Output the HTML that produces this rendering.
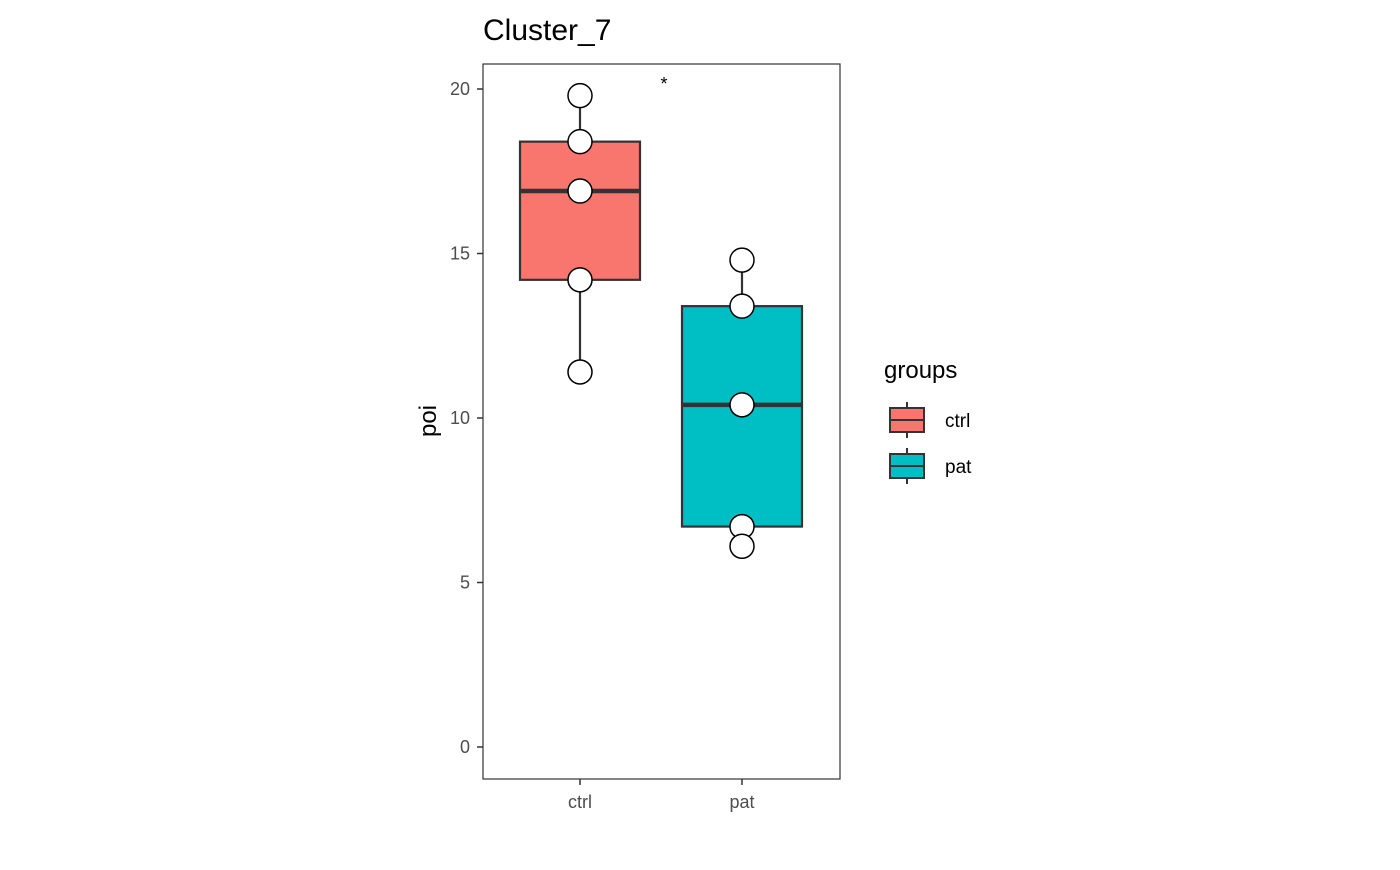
<!DOCTYPE html>
<html><head><meta charset="utf-8"><style>
body{margin:0;background:#fff;font-family:"Liberation Sans",Arial,sans-serif}
svg text{font-family:"Liberation Sans",Arial,sans-serif}
</style></head><body>
<svg id="c" width="1400" height="865" xmlns="http://www.w3.org/2000/svg">
<text x="483" y="40" font-size="30" fill="#000">Cluster_7</text>
<rect x="483" y="64" width="357" height="715" fill="none" stroke="#333" stroke-width="1.2"/>
<g id="yaxis"></g>
<g id="xaxis"></g>
<g id="boxes"></g>
<text x="664" y="90" font-size="18" text-anchor="middle">*</text>
<text transform="translate(436,421) rotate(-90)" font-size="24" text-anchor="middle">poi</text>
<g>
<text x="884" y="378" font-size="24">groups</text>
<g>
<line x1="907" y1="402" x2="907" y2="438" stroke="#333" stroke-width="2"/>
<rect x="890" y="408" width="34" height="24" fill="#F8766D" stroke="#333" stroke-width="2"/>
<line x1="890" y1="420" x2="924" y2="420" stroke="#333" stroke-width="2"/>
<text x="945" y="427" font-size="19">ctrl</text></g>
<g>
<line x1="907" y1="448" x2="907" y2="484" stroke="#333" stroke-width="2"/>
<rect x="890" y="454" width="34" height="24" fill="#00BFC4" stroke="#333" stroke-width="2"/>
<line x1="890" y1="466" x2="924" y2="466" stroke="#333" stroke-width="2"/>
<text x="945" y="473" font-size="19">pat</text></g>
</g>
</svg>
<script>
const categories=["ctrl","pat"];
const colors=["#F8766D","#00BFC4"];
const ctrlPoints=[19.8,18.4,16.9,14.2,11.4];
const patPoints=[14.8,13.4,10.4,6.7,6.1];
const yTicks=[0,5,10,15,20];
const NS="http://www.w3.org/2000/svg";
const y=v=>747-v*32.9;
const x=i=>580+i*162;
function mk(t,a,p){const e=document.createElementNS(NS,t);for(const k in a)e.setAttribute(k,a[k]);p.appendChild(e);return e;}
const ya=document.getElementById('yaxis'),xa=document.getElementById('xaxis'),bx=document.getElementById('boxes');
yTicks.forEach(t=>{
 const l=mk('line',{x1:477,x2:483,y1:y(t),y2:y(t),stroke:'#333','stroke-width':1.5},ya);
 
 
 const s=mk('text',{x:470,y:y(t)+6,'font-size':18,'text-anchor':'end',fill:'#4d4d4d'},ya);s.textContent=t;
 
 
});
function q(arr,p){const s=[...arr].sort((a,b)=>a-b);const h=(s.length-1)*p,lo=Math.floor(h);return s[lo]+(s[Math.ceil(h)]-s[lo])*(h-lo);}
[ctrlPoints,patPoints].forEach((pts,i)=>{
 const cx=x(i);
 const l=mk('line',{x1:cx,x2:cx,y1:779,y2:785,stroke:'#333','stroke-width':1.5},xa);
 
 
 const s=mk('text',{x:cx,y:808,'font-size':18,'text-anchor':'middle',fill:'#4d4d4d'},xa);s.textContent=categories[i];
 
 
 const g=mk('g',{},bx);
 
 
 const q1=q(pts,.25),md=q(pts,.5),q3=q(pts,.75),mn=Math.min(...pts),mx=Math.max(...pts);
 mk('line',{x1:cx,x2:cx,y1:y(mx),y2:y(mn),stroke:'#333','stroke-width':2.2},g);
 mk('rect',{x:cx-60,y:y(q3),width:120,height:y(q1)-y(q3),fill:colors[i],stroke:'#333','stroke-width':2.2},g);
 mk('line',{x1:cx-60,x2:cx+60,y1:y(md),y2:y(md),stroke:'#333','stroke-width':4.5},g);
 pts.forEach(v=>{const c=mk('circle',{cx:cx,cy:y(v),r:12,fill:'#fff',stroke:'#000','stroke-width':1.5},g);
  
  });
});
</script>
</body></html>
